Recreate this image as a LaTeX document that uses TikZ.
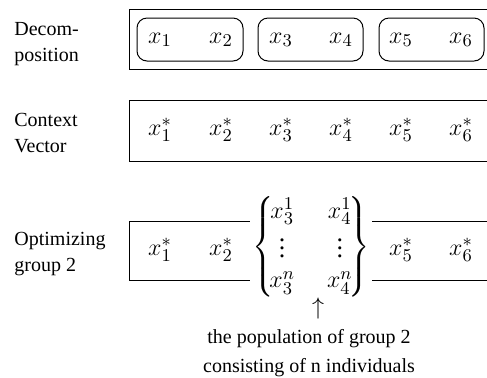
\documentclass[tikz,border=0pt]{standalone}
\usepackage[no-math]{fontspec}
\setmainfont{Liberation Serif}
\usepackage{amsmath}
\begin{document}
\begin{tikzpicture}[x=0.5pt,y=-0.5pt,
  lbl/.style={anchor=west,align=left,inner sep=0pt,font=\fontsize{10}{13}\selectfont},
  captext/.style={anchor=base,inner sep=0pt,font=\fontsize{10}{12.5}\selectfont},
  var/.style={inner sep=0pt,font=\fontsize{13}{15}\selectfont},
  rowbox/.style={draw,line width=0.5pt},
  grp/.style={draw,line width=0.5pt,rounded corners=5pt}]
\useasboundingbox (0,0) rectangle (487,377);
\clip (0,0) rectangle (487,377);
% row 1
\node[lbl] (l1) at (14,44) {Decom-\\position};
\draw[rowbox] (129,9) rectangle (495,69);
\draw[grp] (137,18) rectangle (243,61);
\draw[grp] (258,18) rectangle (363,61);
\draw[grp] (379,18) rectangle (484,61);
\foreach \i/\x in {1/160,2/221,3/281,4/341,5/401,6/461}
  \node[var] (a\i) at (\x,40) {$x_{\i}$};
% row 2
\node[lbl] (l2) at (14,133) {Context\\Vector};
\draw[rowbox] (129,100) rectangle (495,161);
\foreach \i/\x in {1/160,2/221,3/281,4/341,5/401,6/461}
  \node[var] (b\i) at (\x,130) {$x_{\i}^{*}$};
% row 3
\node[lbl] (l3) at (14,254) {Optimizing\\group 2};
\draw[rowbox] (129,221) rectangle (495,280);
\foreach \i/\x in {1/160,2/221,5/401,6/461}
  \node[var] (c\i) at (\x,250) {$x_{\i}^{*}$};
\node[var,fill=white,inner xsep=1pt,inner ysep=0pt] (m) at (311,247)
  {$\arraycolsep=8pt\left\{\mkern-3mu\begin{matrix} x_3^1 & x_4^1\\ \vdots & \vdots\\ x_3^n & x_4^n\end{matrix}\mkern-3mu\right\}$};
\node[var] (arr) at (318,308) {$\uparrow$};
\node[captext] (t1) at (309,343) {the population of group 2};
\node[captext] (t2) at (309,372) {consisting of n individuals};
\end{tikzpicture}
\end{document}
